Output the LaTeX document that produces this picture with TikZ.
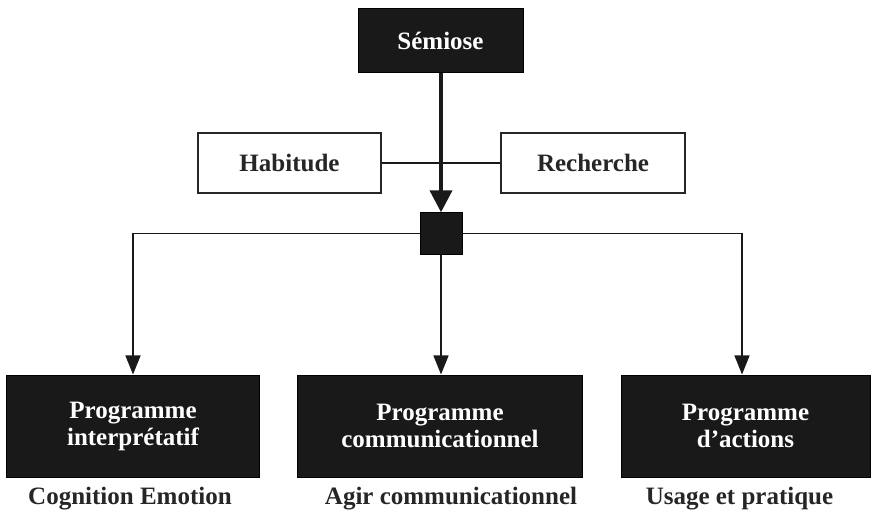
\documentclass[tikz,border=0pt]{standalone}
\usepackage{fontspec}
\setmainfont{Liberation Serif}
\usetikzlibrary{arrows.meta, positioning}

\begin{document}
\begin{tikzpicture}[
    x=1pt, y=1pt,
    darkbox/.style={rectangle, draw=black, fill=black!90, text=white, line width=1pt, align=center, font=\fontsize{25}{28}\selectfont\bfseries},
    whitebox/.style={rectangle, draw=black!85, fill=white, line width=1.3pt, align=center, font=\fontsize{25}{28}\selectfont\bfseries, text=black!85},
    hubbox/.style={rectangle, draw=black, fill=black!90, minimum size=42pt, inner sep=0pt},
    arrow/.style={-{Triangle[length=19pt, width=15pt]}, line width=1.4pt, black!90},
    bigarrow/.style={-{Triangle[length=22pt, width=22pt]}, line width=4pt, black!90},
    link/.style={line width=1.4pt, black!90},
    sublabel/.style={font=\fontsize{25}{28}\selectfont\bfseries, text=black!85}
]
\useasboundingbox (0,0) rectangle (877,514);

% Top: semiose and its two modes
\node[darkbox, minimum width=165pt, minimum height=64pt] (semiose) at (440.5,473) {S\'emiose};
\node[whitebox, minimum width=183pt, minimum height=60pt] (habitude) at (289.5,351) {Habitude};
\node[whitebox, minimum width=184pt, minimum height=60pt] (recherche) at (593,351) {Recherche};

\node[hubbox] (hub) at (441,280.5) {};

% Bottom row: the three programmes
\node[darkbox, minimum width=253pt, minimum height=102pt] (interp) at (133,88) {Programme\\[-1pt]interpr\'etatif};
\node[darkbox, minimum width=285pt, minimum height=102pt] (comm) at (440,88) {Programme\\[-1pt]communicationnel};
\node[darkbox, minimum width=249pt, minimum height=102pt] (actions) at (745.5,88) {Programme\\[-1pt]d'actions};

\node[sublabel, below=6pt of interp, xshift=-3pt] (cognition) {Cognition Emotion};
\node[sublabel, below=6pt of comm, xshift=11pt] (agir) {Agir communicationnel};
\node[sublabel, below=6pt of actions, xshift=-6pt] (usage) {Usage et pratique};

% Connectors
\draw[link] (habitude.east) -- (recherche.west);
\draw[bigarrow] (semiose.south -| hub.north) -- (hub.north);
\draw[arrow] (hub.west) -| (interp.north);
\draw[arrow] (hub.south) -- (comm.north -| hub.south);
\draw[arrow] (hub.east) -| ([xshift=-3.5pt]actions.north);

\end{tikzpicture}
\end{document}
